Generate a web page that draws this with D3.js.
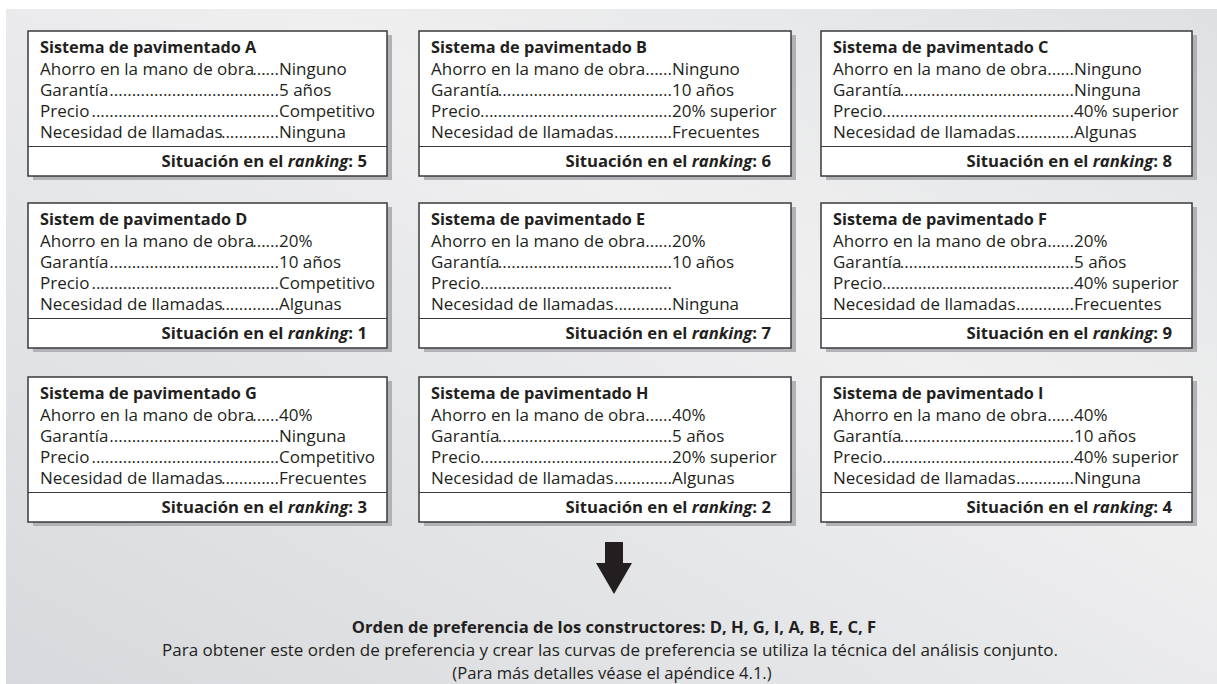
<!DOCTYPE html>
<html>
<head>
<meta charset="utf-8">
<script src="https://cdn.jsdelivr.net/npm/d3@7/dist/d3.min.js"></script>
<style>
  html, body { margin: 0; padding: 0; background: #ffffff; }
  svg { display: block; }
</style>
</head>
<body>
<svg id="chart" width="1217" height="684"></svg>
<script>
// ---------- data ----------
const systemNames = [
  "Sistema de pavimentado A", "Sistema de pavimentado B", "Sistema de pavimentado C",
  "Sistem de pavimentado D", "Sistema de pavimentado E", "Sistema de pavimentado F",
  "Sistema de pavimentado G", "Sistema de pavimentado H", "Sistema de pavimentado I"
];
const attributeLabels = ["Ahorro en la mano de obra", "Garantía", "Precio", "Necesidad de llamadas"];
const laborSavings = ["Ninguno", "Ninguno", "Ninguno", "20%", "20%", "20%", "40%", "40%", "40%"];
const warranty = ["5 años", "10 años", "Ninguna", "10 años", "10 años", "5 años", "Ninguna", "5 años", "10 años"];
const priceLevel = ["Competitivo", "20% superior", "40% superior", "Competitivo", "", "40% superior", "Competitivo", "20% superior", "40% superior"];
const callNeeds = ["Ninguna", "Frecuentes", "Algunas", "Algunas", "Ninguna", "Frecuentes", "Frecuentes", "Algunas", "Ninguna"];
const rankings = [5, 6, 8, 1, 7, 9, 3, 2, 4];
const rankingLabel = ["Situación en el ", "ranking", ": "];
const preferenceOrder = ["D", "H", "G", "I", "A", "B", "E", "C", "F"];
const footerTitle = "Orden de preferencia de los constructores: ";
const footerLines = [
  "Para obtener este orden de preferencia y crear las curvas de preferencia se utiliza la técnica del análisis conjunto.",
  "(Para más detalles véase el apéndice 4.1.)"
];

// ---------- layout ----------
const W = 1217, H = 684;
const FONT = "'Open Sans', 'Noto Sans', sans-serif";
const FS = 17;        // card body
const FS_TITLE = 16.3;
const FS_RANK = 16.7;
const INK = "#231f20";
const colX = [28, 419, 821];
const colW = [359, 372, 371];
const valueOffset = [251, 253, 253];
const rowY = [31, 203, 377];
const cardH = 145;

const svg = d3.select("#chart");
const defs = svg.append("defs");
const grad = defs.append("linearGradient").attr("id", "bg")
  .attr("x1", "0%").attr("y1", "100%").attr("x2", "100%").attr("y2", "0%");
[["0%", "#d8d9dc"], ["40%", "#e6e7e9"], ["62%", "#efeff0"], ["80%", "#e8e9ea"], ["100%", "#dfe0e2"]]
  .forEach(([o, c]) => grad.append("stop").attr("offset", o).attr("stop-color", c));

svg.append("rect").attr("x", 6).attr("y", 9).attr("width", W - 6).attr("height", H - 9)
  .attr("fill", "url(#bg)");

const cards = systemNames.map((name, i) => ({
  name, i,
  col: i % 3, row: Math.floor(i / 3),
  values: [laborSavings[i], warranty[i], priceLevel[i], callNeeds[i]],
  rank: rankings[i]
}));

const g = svg.selectAll("g.card").data(cards).join("g")
  .attr("class", "card")
  .attr("transform", d => `translate(${colX[d.col]},${rowY[d.row]})`);

// shadow
g.append("rect").attr("x", 5).attr("y", 4)
  .attr("width", d => colW[d.col]).attr("height", cardH)
  .attr("fill", "#b1b2b5");
// box
g.append("rect").attr("x", 0).attr("y", 0)
  .attr("width", d => colW[d.col]).attr("height", cardH)
  .attr("fill", "#ffffff").attr("stroke", "#3a3a3c").attr("stroke-width", 1.5);
// divider
g.append("line").attr("x1", 0).attr("x2", d => colW[d.col])
  .attr("y1", 115.5).attr("y2", 115.5)
  .attr("stroke", "#3a3a3c").attr("stroke-width", 1.2);

// title
g.append("text").attr("x", 12).attr("y", 22)
  .attr("font-family", FONT).attr("font-size", FS_TITLE).attr("font-weight", 700)
  .attr("fill", INK).text(d => d.name);

const rowBase = [43.5, 64.5, 85.5, 106.5];

// attribute rows
g.each(function (d) {
  const card = d3.select(this);
  attributeLabels.forEach((lab, k) => {
    const y = rowBase[k];
    const vx = valueOffset[d.col];
    const t = card.append("text").attr("x", 12).attr("y", y)
      .attr("font-family", FONT).attr("font-size", FS).attr("fill", INK).text(lab);
    const labEnd = 12 + t.node().getComputedTextLength();
    const probe = card.append("text").attr("font-family", FONT).attr("font-size", FS).text("..........");
    const dotW = probe.node().getComputedTextLength() / 10;
    probe.remove();
    const n = Math.max(0, Math.floor((vx - labEnd + 2) / dotW));
    card.append("text").attr("x", vx).attr("y", y).attr("text-anchor", "end")
      .attr("font-family", FONT).attr("font-size", FS).attr("fill", INK)
      .text(".".repeat(n));
    card.append("text").attr("x", vx).attr("y", y)
      .attr("font-family", FONT).attr("font-size", FS).attr("fill", INK)
      .text(d.values[k]);
  });
});

// ranking line
const rk = g.append("text").attr("x", d => colW[d.col] - 20).attr("y", 135.5)
  .attr("text-anchor", "end")
  .attr("font-family", FONT).attr("font-size", FS_RANK).attr("font-weight", 700).attr("fill", INK);
rk.append("tspan").text(rankingLabel[0]);
rk.append("tspan").attr("font-style", "italic").text(rankingLabel[1]);
rk.append("tspan").text(d => rankingLabel[2] + d.rank);

// arrow
const ax = 614;
svg.append("path")
  .attr("d", `M${ax - 9},542 L${ax + 9},542 L${ax + 9},563 L${ax + 18},563 L${ax},594 L${ax - 18},563 L${ax - 9},563 Z`)
  .attr("fill", INK);

// footer
svg.append("text").attr("x", ax).attr("y", 632.5).attr("text-anchor", "middle")
  .attr("font-family", FONT).attr("font-size", 16.6).attr("font-weight", 700).attr("fill", INK)
  .text(footerTitle + preferenceOrder.join(", "));
svg.append("text").attr("x", 610).attr("y", 656).attr("text-anchor", "middle")
  .attr("font-family", FONT).attr("font-size", 17).attr("fill", INK).text(footerLines[0]);
svg.append("text").attr("x", 612).attr("y", 679).attr("text-anchor", "middle")
  .attr("font-family", FONT).attr("font-size", 16.6).attr("fill", INK).text(footerLines[1]);
</script>
</body>
</html>
